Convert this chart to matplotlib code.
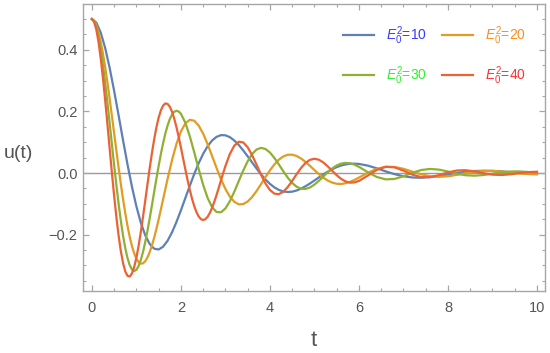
"""Damped oscillation u(t) for four values of E0^2, Mathematica-style frame."""

import matplotlib
matplotlib.use("Agg")
import matplotlib.pyplot as plt
from matplotlib.ticker import MultipleLocator, FuncFormatter

plt.rcParams["font.family"] = ["Liberation Sans", "DejaVu Sans"]
plt.rcParams["mathtext.fontset"] = "custom"
plt.rcParams["mathtext.rm"] = "Liberation Sans"
plt.rcParams["mathtext.it"] = "Liberation Sans:italic"

# ── Data ──────────────────────────────────────────────────────────

t = [0.0, 0.1, 0.2, 0.3, 0.4, 0.5, 0.6, 0.7, 0.8, 0.9,
     1.0, 1.1, 1.2, 1.3, 1.4, 1.5, 1.6, 1.7, 1.8, 1.9,
     2.0, 2.1, 2.2, 2.3, 2.4, 2.5, 2.6, 2.7, 2.8, 2.9,
     3.0, 3.1, 3.2, 3.3, 3.4, 3.5, 3.6, 3.7, 3.8, 3.9,
     4.0, 4.1, 4.2, 4.3, 4.4, 4.5, 4.6, 4.7, 4.8, 4.9,
     5.0, 5.1, 5.2, 5.3, 5.4, 5.5, 5.6, 5.7, 5.8, 5.9,
     6.0, 6.2, 6.4, 6.6, 6.8, 7.0, 7.2, 7.4, 7.6, 7.8,
     8.0, 8.2, 8.4, 8.6, 8.8, 9.0, 9.2, 9.4, 9.6, 9.8, 10.0]

u_e10 = [0.5000, 0.4884, 0.4557, 0.4051, 0.3407, 0.2666, 0.1871, 0.1062, 0.0279, -0.0446,
         -0.1085, -0.1617, -0.2026, -0.2308, -0.2457, -0.2482, -0.2391, -0.2199, -0.1925, -0.1588,
         -0.1209, -0.0810, -0.0410, -0.0027, 0.0322, 0.0625, 0.0872, 0.1056, 0.1176, 0.1232,
         0.1226, 0.1165, 0.1057, 0.0911, 0.0735, 0.0543, 0.0343, 0.0146, -0.0041, -0.0208,
         -0.0351, -0.0465, -0.0547, -0.0597, -0.0615, -0.0604, -0.0566, -0.0506, -0.0428, -0.0338,
         -0.0241, -0.0141, -0.0044, 0.0046, 0.0126, 0.0193, 0.0245, 0.0281, 0.0301, 0.0305,
         0.0296, 0.0241, 0.0154, 0.0055, -0.0035, -0.0104, -0.0143, -0.0152, -0.0131, -0.0093,
         -0.0045, 0.0003, 0.0041, 0.0066, 0.0075, 0.0070, 0.0054, 0.0030, 0.0007, -0.0015, -0.0029]

u_e20 = [0.5000, 0.4803, 0.4252, 0.3422, 0.2402, 0.1284, 0.0174, -0.0851, -0.1718, -0.2372,
         -0.2784, -0.2943, -0.2859, -0.2561, -0.2092, -0.1503, -0.0851, -0.0193, 0.0421, 0.0947,
         0.1351, 0.1615, 0.1729, 0.1699, 0.1541, 0.1277, 0.0938, 0.0556, 0.0167, -0.0200,
         -0.0518, -0.0767, -0.0935, -0.1015, -0.1008, -0.0924, -0.0777, -0.0582, -0.0360, -0.0130,
         0.0089, 0.0281, 0.0435, 0.0540, 0.0594, 0.0597, 0.0554, 0.0472, 0.0360, 0.0231,
         0.0096, -0.0035, -0.0151, -0.0245, -0.0310, -0.0348, -0.0354, -0.0331, -0.0285, -0.0222,
         -0.0147, 0.0010, 0.0137, 0.0202, 0.0198, 0.0137, 0.0046, -0.0042, -0.0102, -0.0123,
         -0.0105, -0.0058, -0.0004, 0.0042, 0.0068, 0.0070, 0.0051, 0.0021, -0.0011, -0.0034, -0.0043]

u_e30 = [0.5000, 0.4733, 0.3994, 0.2901, 0.1604, 0.0254, -0.1000, -0.2034, -0.2761, -0.3133,
         -0.3141, -0.2819, -0.2229, -0.1459, -0.0605, 0.0234, 0.0973, 0.1543, 0.1899, 0.2023,
         0.1924, 0.1631, 0.1193, 0.0670, 0.0124, -0.0386, -0.0809, -0.1109, -0.1265, -0.1274,
         -0.1148, -0.0913, -0.0604, -0.0259, 0.0082, 0.0383, 0.0617, 0.0765, 0.0818, 0.0782,
         0.0667, 0.0491, 0.0281, 0.0059, -0.0148, -0.0321, -0.0445, -0.0511, -0.0516, -0.0468,
         -0.0374, -0.0250, -0.0110, 0.0028, 0.0150, 0.0247, 0.0308, 0.0330, 0.0318, 0.0272,
         0.0202, 0.0027, -0.0127, -0.0205, -0.0191, -0.0104, 0.0009, 0.0099, 0.0134, 0.0111,
         0.0049, -0.0022, -0.0071, -0.0085, -0.0063, -0.0020, 0.0023, 0.0050, 0.0053, 0.0034, 0.0006]

u_e40 = [0.5000, 0.4655, 0.3707, 0.2342, 0.0779, -0.0746, -0.2032, -0.2924, -0.3338, -0.3260,
         -0.2746, -0.1904, -0.0879, 0.0172, 0.1105, 0.1802, 0.2191, 0.2247, 0.1992, 0.1489,
         0.0829, 0.0116, -0.0548, -0.1078, -0.1413, -0.1525, -0.1419, -0.1129, -0.0713, -0.0237,
         0.0228, 0.0620, 0.0892, 0.1018, 0.0994, 0.0837, 0.0580, 0.0269, -0.0053, -0.0337,
         -0.0550, -0.0669, -0.0685, -0.0607, -0.0454, -0.0253, -0.0035, 0.0167, 0.0329, 0.0431,
         0.0465, 0.0433, 0.0344, 0.0217, 0.0072, -0.0070, -0.0189, -0.0272, -0.0311, -0.0303,
         -0.0255, -0.0082, 0.0103, 0.0204, 0.0186, 0.0077, -0.0051, -0.0132, -0.0132, -0.0066,
         0.0021, 0.0083, 0.0092, 0.0054, -0.0005, -0.0051, -0.0063, -0.0041, -0.0003, 0.0031, 0.0043]

# extra in-between readings where the faster curves turn sharply
t_mid = [0.05, 0.15, 0.25, 0.35, 0.45, 0.55, 0.65, 0.75, 0.85, 0.95,
         1.05, 1.15, 1.25, 1.35, 1.45, 1.55, 1.65, 1.75, 1.85, 1.95,
         2.05, 2.15, 2.25, 2.35, 2.45, 2.55, 2.65, 2.75, 2.85, 2.95]

u_e20_mid = [0.4950, 0.4568, 0.3867, 0.2929, 0.1850, 0.0725, -0.0355, -0.1308, -0.2074, -0.2610,
             -0.2895, -0.2930, -0.2735, -0.2345, -0.1809]

u_e30_mid = [0.4932, 0.4416, 0.3482, 0.2268, 0.0925, -0.0393, -0.1551, -0.2440, -0.2993, -0.3180,
             -0.3017, -0.2552, -0.1860, -0.1037, -0.0178, 0.0621, 0.1283, 0.1749, 0.1990, 0.1999]

u_e40_mid = [0.4912, 0.4246, 0.3062, 0.1569, -0.0002, -0.1430, -0.2535, -0.3194, -0.3359, -0.3051,
             -0.2357, -0.1404, -0.0348, 0.0661, 0.1488, 0.2038, 0.2261, 0.2155, 0.1766, 0.1173,
             0.0472, -0.0229, -0.0835, -0.1271, -0.1497, -0.1498, -0.1295, -0.0934, -0.0478, 0.0001]

e0_squared = [10, 20, 30, 40]
series = [u_e10, u_e20, u_e30, u_e40]
series_mid = [[], u_e20_mid, u_e30_mid, u_e40_mid]

# Mathematica default line colours + the (brighter) legend text colours
line_colors = ["#5e81b5", "#e19c24", "#8fb032", "#eb6235"]
text_colors = ["#3a3aff", "#ff8c1a", "#33ee33", "#ff3030"]
frame_color = "#a6a6a6"
label_color = "#555555"

# ── Figure ────────────────────────────────────────────────────────

fig = plt.figure(figsize=(5.5, 3.53), dpi=100)
ax = fig.add_axes([83 / 550, 1 - 291 / 353, 462 / 550, 287 / 353])

ax.axhline(0, color="#9a9a9a", lw=1.0, zorder=1)

lines = []
for vals, mid, c in zip(series, series_mid, line_colors):
    pts = sorted(zip(t + t_mid[:len(mid)], vals + mid))
    xs = [p[0] for p in pts]
    ys = [p[1] for p in pts]
    (ln,) = ax.plot(xs, ys, color=c, lw=1.6, solid_joinstyle="round", zorder=2)
    lines.append(ln)

ax.set_xlim(-0.2, 10.18)
ax.set_ylim(-0.383, 0.549)

# Frame + inward ticks on all sides
for sp in ax.spines.values():
    sp.set_color(frame_color)
    sp.set_linewidth(1.0)
ax.xaxis.set_major_locator(MultipleLocator(2))
ax.xaxis.set_minor_locator(MultipleLocator(0.5))
ax.yaxis.set_major_locator(MultipleLocator(0.2))
ax.yaxis.set_minor_locator(MultipleLocator(0.05))
ax.tick_params(which="both", direction="in", top=True, right=True,
               color=frame_color, labelcolor=label_color, labelsize=10.5)
ax.tick_params(which="major", length=4, width=0.9)
ax.tick_params(which="minor", length=2.2, width=0.8)
ax.tick_params(axis="x", pad=7)
ax.tick_params(axis="y", pad=4)
ax.xaxis.set_major_formatter(FuncFormatter(lambda v, _: f"{v:.0f}"))
ax.yaxis.set_major_formatter(
    FuncFormatter(lambda v, _: f"{v:.1f}".replace("-", "\u2212") if abs(v) > 1e-9 else "0.0"))

ax.set_xlabel("t", fontsize=16, color=label_color)
ax.xaxis.set_label_coords(0.5, -0.135)
ax.set_ylabel("u(t)", fontsize=14, color=label_color, rotation=0, ha="center", va="center")
ax.yaxis.set_label_coords(-0.14, 0.48)

# Legend: two columns, labels coloured per series
order = [0, 2, 1, 3]
leg = ax.legend([lines[i] for i in order],
                [rf"$E_0^2$={e0_squared[i]}" for i in order],
                ncol=2, loc="upper left", bbox_to_anchor=(0.563, 0.93),
                frameon=False, fontsize=10, borderpad=0, borderaxespad=0,
                handlelength=2.2, handletextpad=0.9, columnspacing=1.1,
                labelspacing=1.3)
for txt, i in zip(leg.get_texts(), order):
    txt.set_color(text_colors[i])

fig.savefig("out.png", dpi=100)
